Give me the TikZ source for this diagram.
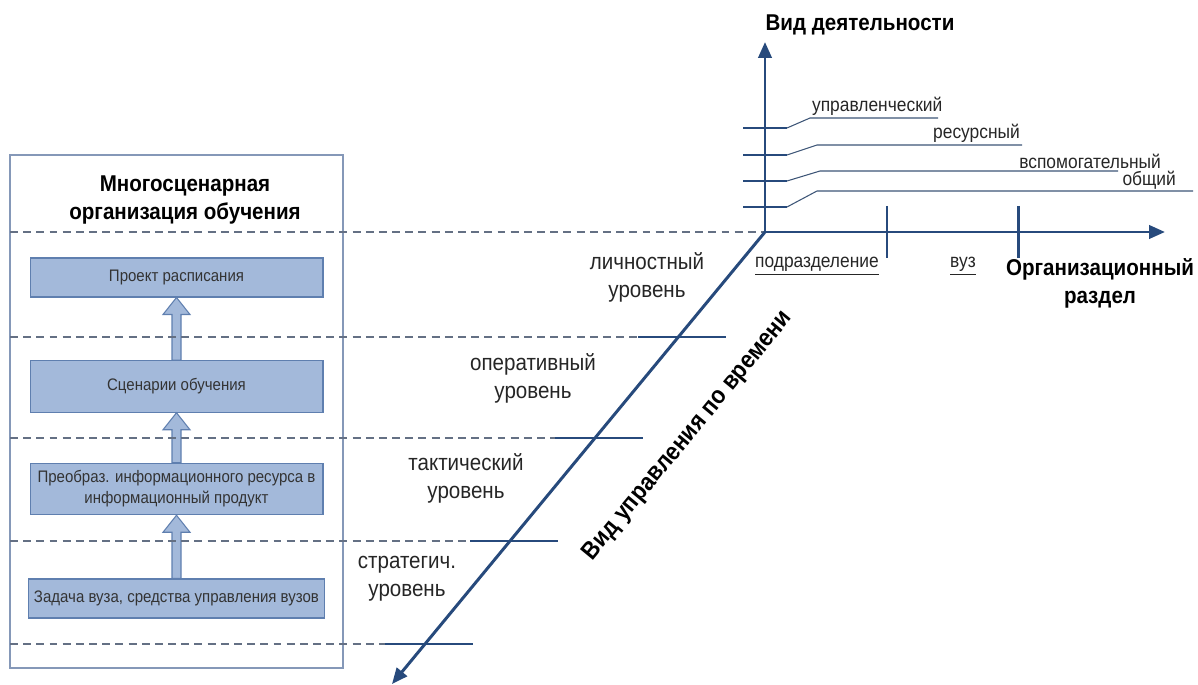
\documentclass[tikz,border=0pt]{standalone}
\usepackage{fontspec}
\setmainfont{Liberation Sans}[FakeStretch=0.9]
\usetikzlibrary{arrows.meta, calc}

\definecolor{axisblue}{RGB}{39,74,124}
\definecolor{leadblue}{RGB}{60,84,118}
\definecolor{dashgray}{RGB}{100,112,132}
\definecolor{framegray}{RGB}{133,152,184}
\definecolor{boxfill}{RGB}{163,185,218}
\definecolor{boxline}{RGB}{95,127,175}

\newcommand{\headfont}{\fontsize{13}{16}\selectfont\bfseries}
\newcommand{\boxfont}{\fontsize{9.5}{12}\selectfont}
\newcommand{\levelfont}{\fontsize{13}{16}\selectfont}
\newcommand{\tagfont}{\fontsize{11}{13}\selectfont}

\tikzstyle{box} = [
    rectangle,
    minimum width=5.86cm,
    minimum height=0.78cm,
    fill=boxfill,
    draw=boxline,
    line width=0.6pt,
    text=black!80,
    align=center,
    font=\boxfont
]
\tikzstyle{tallbox} = [box, minimum height=1.03cm]
\tikzstyle{blockarrow} = [fill=boxfill, draw=boxline, line width=0.6pt]
\tikzstyle{axis} = [draw=axisblue, line width=1.7pt,
    -{Triangle[length=9pt,width=7.5pt]}]
\tikzstyle{tick} = [draw=axisblue, line width=1.7pt]
\tikzstyle{leader} = [draw=leadblue, line width=0.6pt]
\tikzstyle{guide} = [draw=dashgray, line width=0.6pt,
    dash pattern=on 4.5pt off 3pt]
\tikzstyle{level} = [align=center, font=\levelfont, text=black!85]
\tikzstyle{tag} = [font=\tagfont, text=black!85, inner sep=1pt]

% block arrow from the top of #1 up to the bottom of #2
\newcommand{\bigarrow}[2]{
  \draw[blockarrow] ($(#1.north)+(-4.5,0)$) -- ($(#2.south)+(-4.5,17)$)
    -- ($(#2.south)+(-13.5,17)$) -- (#2.south) -- ($(#2.south)+(13.5,17)$)
    -- ($(#2.south)+(4.5,17)$) -- ($(#1.north)+(4.5,0)$) -- cycle;
}

\begin{document}
\begin{tikzpicture}[x=0.02cm, y=-0.02cm]
\useasboundingbox (0,0) rectangle (1198,685);

% left panel
\draw[framegray, line width=0.6pt] (10,155) rectangle (343,668);
\node (title) [align=center, font=\headfont] at (185,200)
{Многосценарная\\организация обучения};

\node (plan) [box] at (176.5,277.5) {Проект расписания};
\node (scen) [tallbox] at (176.5,386.5) {Сценарии обучения};
\node (transf) [tallbox] at (176.5,489)
{Преобраз. информационного ресурса в\\информационный продукт};
\node (task) [box] at (176.5,598.5)
{Задача вуза, средства управления вузов};

\bigarrow{scen}{plan}
\bigarrow{transf}{scen}
\bigarrow{task}{transf}

% axes
\coordinate (o) at (765,232);
\coordinate (vtop) at (765,42);
\coordinate (hend) at (1165,232);
\coordinate (dend) at (392,684);

% levels along the time axis
\foreach \i/\x/\y in {1/678/337, 2/595/438, 3/510/541, 4/425/644} {
  \coordinate (t\i) at (\x,\y);
  \draw[tick] ($(t\i)+(-40,0)$) -- ($(t\i)+(48,0)$);
  \draw[guide] (10,\y) -- ($(t\i)+(-40,0)$);
}
\draw[guide] (10,232) -- (o);

\draw[axis] (o) -- (vtop);
\draw[axis] (o) -- (hend);
\draw[axis] (o) -- (dend);

% activity kinds
\foreach \i/\y/\ly/\lx/\ex in {1/128/118/810/938, 2/155/145/817/1022,
                               3/181/171/820/1118, 4/207/191/817/1193} {
  \draw[tick] (743,\y) -- (787,\y);
  \coordinate (k\i) at (\lx,\ly);
  \coordinate (e\i) at (\ex,\ly);
  \draw[leader] (787,\y) -- (k\i) -- (e\i);
}
\node (upr) [tag, anchor=south west] at (k1) {управленческий};
\node (res) [tag, anchor=south east] at (e2) {ресурсный};
\node (vsp) [tag, anchor=south east] at (1163,171) {вспомогательный};
\node (obsh) [tag, anchor=south east] at (1178,191) {общий};

% organisational units
\draw[tick] (887,206) -- (887,258);
\draw[tick] (1018,206) -- (1018,258);
\node (podr) [tag] at (817,266) {\underline{подразделение}};
\node (vuz) [tag] at (963,266) {\underline{вуз}};

% axis titles
\node (vid) [font=\headfont] at (860,25) {Вид деятельности};
\node (org) [align=center, font=\headfont] at (1100,283)
{Организационный\\раздел};
\node (vrem) [font=\fontsize{14}{16}\selectfont\bfseries, rotate=50.5]
at (688,436) {Вид управления по времени};

% level names
\node (lich) [level] at (647,277) {личностный\\уровень};
\node (oper) [level] at (533,378) {оперативный\\уровень};
\node (takt) [level] at (466,478) {тактический\\уровень};
\node (strat) [level] at (407,579) {стратегич.\\уровень};

\end{tikzpicture}
\end{document}
